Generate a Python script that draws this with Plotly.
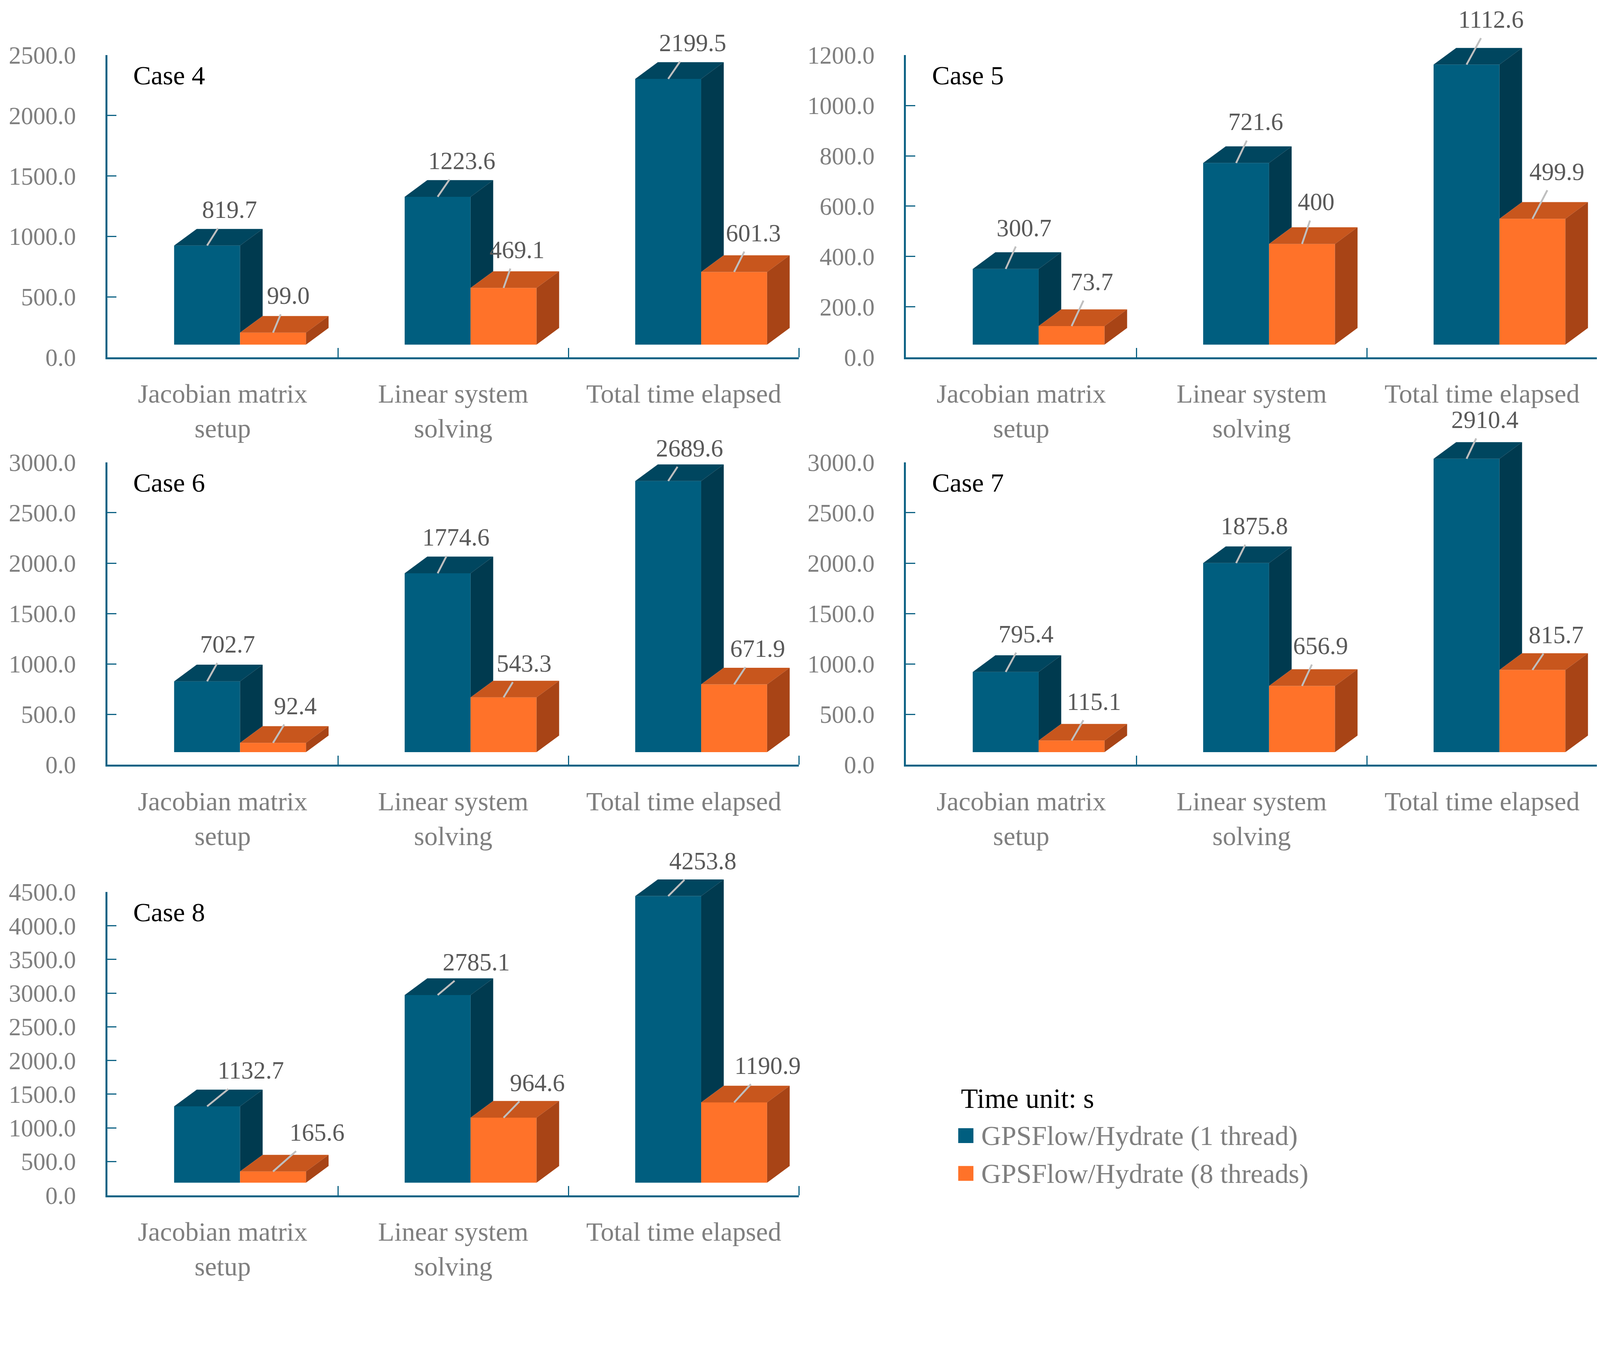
import plotly.graph_objects as go

# ---------------- data ----------------
categories = ["Jacobian matrix<br>setup", "Linear system<br>solving", "Total time elapsed"]
case_names = ["Case 4", "Case 5", "Case 6", "Case 7", "Case 8"]
series_names = ["GPSFlow/Hydrate (1 thread)", "GPSFlow/Hydrate (8 threads)"]

one_thread_case4 = [819.7, 1223.6, 2199.5]
eight_threads_case4 = [99.0, 469.1, 601.3]
one_thread_case5 = [300.7, 721.6, 1112.6]
eight_threads_case5 = [73.7, 400, 499.9]
one_thread_case6 = [702.7, 1774.6, 2689.6]
eight_threads_case6 = [92.4, 543.3, 671.9]
one_thread_case7 = [795.4, 1875.8, 2910.4]
eight_threads_case7 = [115.1, 656.9, 815.7]
one_thread_case8 = [1132.7, 2785.1, 4253.8]
eight_threads_case8 = [165.6, 964.6, 1190.9]

y_max = [2500, 1200, 3000, 3000, 4500]
y_step = [500, 200, 500, 500, 500]

one_thread = [one_thread_case4, one_thread_case5, one_thread_case6, one_thread_case7, one_thread_case8]
eight_threads = [eight_threads_case4, eight_threads_case5, eight_threads_case6, eight_threads_case7, eight_threads_case8]

# ---------------- page geometry ----------------
# target positions are given in screenshot pixels; F = screenshot px per CSS px,
# M = default page margin in CSS px.
F = 1.055
M = 8
WC = int(4317 / F - M)
HC = int(3480 / F - 2 * M)


def L(v):
    return v / F


def fx(P):
    return (P / F - M) / WC


def fy(P):
    return 1 - (P / F - M) / HC


COLS = [(290, 2158), (2447, 4314)]
ROWS = [(149, 965), (1249, 2066), (2410, 3229)]
PANEL_POS = [(0, 0), (0, 1), (1, 0), (1, 1), (2, 0)]

AXIS_COLOR = "#0E6385"
FRONT = ["#005E7F", "#FF7229"]
TOP = ["#00465F", "#C8561D"]
SIDE = ["#003A4F", "#A84416"]
LEADER = "#BFBFBF"
TICK_GRAY = "#7F7F7F"
LABEL_GRAY = "#595959"
FONT = "Liberation Serif"

FRONT_LEFT = -0.2105   # category units, relative to category centre
FRONT_W = 0.286
DEPTH_X = 0.098
DEPTH_PX = 45
FLOOR_PX = 34
EXTRA_PX = 260

# label offsets (screenshot px of a 1568-wide view, x2.753) for [1 thread], [8 threads]
S = 2.753
LABEL_SHIFT = [
    [[(22, -35), (24, -35), (24, -35)], [(15, -36), (13, -37), (19, -38)]],
    [[(18, -40), (19, -40), (24, -44)], [(20, -43), (14, -41), (24, -46)]],
    [[(20, -36), (18, -35), (21, -32)], [(22, -36), (20, -33), (23, -35)]],
    [[(20, -37), (18, -36), (18, -38)], [(22, -38), (18, -39), (23, -34)]],
    [[(43, -35), (38, -32), (34, -34)], [(43, -38), (33, -34), (33, -36)]],
]


def aid(letter, n):
    return letter if n == 1 else f"{letter}{n}"


def akey(letter, n):
    return f"{letter}axis" if n == 1 else f"{letter}axis{n}"


fig = go.Figure()
layout = dict(
    width=WC, height=HC, autosize=False,
    margin=dict(l=0, r=0, t=0, b=0, pad=0, autoexpand=False),
    paper_bgcolor="white", plot_bgcolor="rgba(0,0,0,0)",
    barmode="overlay", showlegend=False,
    font=dict(family=FONT, color=TICK_GRAY, size=L(66)),
)
annotations = []
shapes = []

for k in range(5):
    r, c = PANEL_POS[k]
    x0, x1 = COLS[c]
    ytop, ybot = ROWS[r]
    axis_h = ybot - ytop
    scale = axis_h / y_max[k]          # screenshot px per data unit
    dy = DEPTH_PX / scale
    vis = 2 * k + 1
    bar = 2 * k + 2
    vx, vy = aid("x", vis), aid("y", vis)
    bx, by = aid("x", bar), aid("y", bar)

    # visible axes
    layout[akey("x", vis)] = dict(
        domain=[fx(x0), fx(x1)], anchor=vy, range=[-0.5, 2.5],
        tickmode="array", tickvals=[0, 1, 2], ticktext=categories,
        ticks="", showgrid=False, zeroline=False, automargin=False,
        showline=True, linewidth=L(5), linecolor=AXIS_COLOR,
        tickfont=dict(family=FONT, size=L(72), color=TICK_GRAY),
        ticklabelstandoff=int(round(L(32))),
        minor=dict(tickmode="array", tickvals=[0.5, 1.5, 2.5], ticks="inside",
                   ticklen=L(25), tickwidth=L(3), tickcolor=AXIS_COLOR, showgrid=False),
        fixedrange=True,
    )
    layout[akey("y", vis)] = dict(
        domain=[fy(ybot), fy(ytop)], anchor=vx, range=[0, y_max[k]],
        tickmode="linear", tick0=0, dtick=y_step[k], tickformat=".1f",
        ticks="inside", ticklen=L(25), tickwidth=L(3), tickcolor=AXIS_COLOR,
        showgrid=False, zeroline=False, automargin=False,
        showline=True, linewidth=L(5), linecolor=AXIS_COLOR,
        tickfont=dict(family=FONT, size=L(66), color=TICK_GRAY),
        ticklabelstandoff=int(round(L(66))),
        fixedrange=True,
    )
    # invisible trace so the visible axis pair is always drawn
    fig.add_trace(go.Scatter(x=[0, 1, 2], y=[0, 0, 0], mode="markers",
                             marker=dict(opacity=0, size=1), xaxis=vx, yaxis=vy,
                             hoverinfo="skip", showlegend=False))

    # invisible axes carrying the 3-D bars (same scale, taller domain, raised floor)
    ext_top = max(M * F, ytop - EXTRA_PX)
    ext_h = ybot - ext_top
    layout[akey("x", bar)] = dict(domain=[fx(x0), fx(x1)], anchor=by, range=[-0.5, 2.5],
                                  visible=False, fixedrange=True, automargin=False)
    layout[akey("y", bar)] = dict(domain=[fy(ybot), fy(ext_top)], anchor=bx,
                                  range=[-FLOOR_PX / scale, (ext_h - FLOOR_PX) / scale],
                                  visible=False, fixedrange=True, automargin=False)

    series = [one_thread[k], eight_threads[k]]
    for s in range(2):
        vals = series[s]
        xl = [i + FRONT_LEFT + s * FRONT_W for i in range(3)]
        xc = [v + FRONT_W / 2 for v in xl]
        xr = [v + FRONT_W for v in xl]
        fig.add_trace(go.Bar(
            x=xc, y=vals, base=0, width=FRONT_W, name=series_names[s],
            marker=dict(color=FRONT[s], line=dict(width=0)),
            xaxis=bx, yaxis=by, showlegend=False,
            hovertemplate="%{y}<extra>" + series_names[s] + "</extra>",
        ))
        # top faces
        tx, ty = [], []
        for i, v in enumerate(vals):
            tx += [xl[i], xr[i], xr[i] + DEPTH_X, xl[i] + DEPTH_X, xl[i], None]
            ty += [v, v, v + dy, v + dy, v, None]
        fig.add_trace(go.Scatter(x=tx, y=ty, mode="lines", fill="toself",
                                 fillcolor=TOP[s], line=dict(width=0, color=TOP[s]),
                                 xaxis=bx, yaxis=by, hoverinfo="skip", showlegend=False))
        # side faces (1-thread side starts where the 8-thread bar in front ends)
        sx, sy = [], []
        for i, v in enumerate(vals):
            b0 = min(v, series[1][i]) if s == 0 else 0
            sx += [xr[i], xr[i] + DEPTH_X, xr[i] + DEPTH_X, xr[i], xr[i], None]
            sy += [b0, b0 + dy, v + dy, v, b0, None]
        fig.add_trace(go.Scatter(x=sx, y=sy, mode="lines", fill="toself",
                                 fillcolor=SIDE[s], line=dict(width=0, color=SIDE[s]),
                                 xaxis=bx, yaxis=by, hoverinfo="skip", showlegend=False))
        # data labels with leader lines
        for i, v in enumerate(vals):
            ax, ay = LABEL_SHIFT[k][s][i]
            annotations.append(dict(
                x=xc[i], y=v, xref=bx, yref=by, text=str(v),
                showarrow=True, arrowhead=0, arrowwidth=L(5), arrowcolor=LEADER,
                ax=L(ax * S), ay=L(ay * S), borderpad=L(12), standoff=0,
                font=dict(family=FONT, size=L(66), color=LABEL_GRAY),
            ))

    # case title
    annotations.append(dict(
        x=fx(x0 + 68), y=fy(ytop + 55), xref="paper", yref="paper",
        xanchor="left", yanchor="middle", text=case_names[k], showarrow=False,
        font=dict(family=FONT, size=L(72), color="black"),
    ))

# legend (drawn in the empty bottom-right cell)
annotations.append(dict(x=fx(2593), y=fy(2968), xref="paper", yref="paper",
                        xanchor="left", yanchor="middle", text="Time unit: s",
                        showarrow=False, font=dict(family=FONT, size=L(75), color="black")))
for s, yc in enumerate([3068, 3170]):
    shapes.append(dict(type="rect", xref="paper", yref="paper",
                       x0=fx(2588), x1=fx(2629), y0=fy(yc + 20), y1=fy(yc - 20),
                       fillcolor=FRONT[s], line=dict(width=0)))
    annotations.append(dict(x=fx(2648), y=fy(yc), xref="paper", yref="paper",
                            xanchor="left", yanchor="middle", text=series_names[s],
                            showarrow=False, font=dict(family=FONT, size=L(74), color=TICK_GRAY)))

layout["annotations"] = annotations
layout["shapes"] = shapes
fig.update_layout(**layout)
fig.write_html("out.html")
